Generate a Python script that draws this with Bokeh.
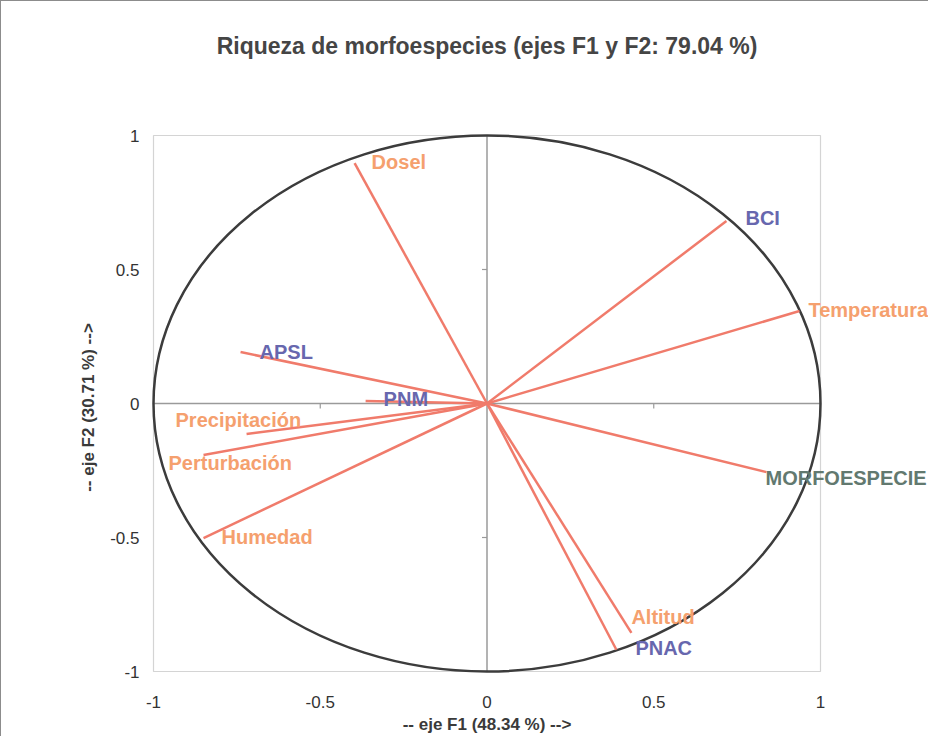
import math
from bokeh.plotting import figure
from bokeh.models import Range1d, ColumnDataSource, LabelSet, Label
from bokeh.core.properties import value
from bokeh.embed import file_html
from bokeh.resources import INLINE

# ---- data ----
variables = ["Dosel", "BCI", "Temperatura", "APSL", "PNM", "Precipitación",
             "Perturbación", "Humedad", "MORFOESPECIE", "Altitud", "PNAC"]
f1 = [-0.397, 0.718, 0.937, -0.739, -0.364, -0.721, -0.850, -0.850, 0.838, 0.433, 0.388]
f2 = [0.897, 0.681, 0.345, 0.192, 0.009, -0.114, -0.192, -0.502, -0.256, -0.856, -0.919]
groups = ["var", "site", "var", "site", "site", "var", "var", "var", "resp", "var", "site"]
tick_values = [-1, -0.5, 0, 0.5, 1]
tick_labels = ["-1", "-0.5", "0", "0.5", "1"]
inner_ticks = [-0.5, 0.5]
title_text = "Riqueza de morfoespecies (ejes F1 y F2: 79.04 %)"
x_title = "-- eje F1 (48.34 %) -->"
y_title = "-- eje F2 (30.71 %) -->"

# ---- styles / layout ----
FONT_NAME = "Liberation Sans"
group_colors = {"var": "#F5A06E", "site": "#6767AE", "resp": "#62796F"}
label_dx = [17, 19, 9, 19, 18, -71, -35, 18, -1, 0, 19]
label_dy = [-1, -3, -1, 0, -2, -14, 8, -1, 6, -16, -2]   # screen px, + = down

W, H = 928, 736
PAD_L, PAD_R, PAD_T, PAD_B = 152, 109, 134, 66      # px around the -1..1 box
lo, hi = min(tick_values), max(tick_values)
ux = (W - PAD_L - PAD_R) / (hi - lo)                 # px per unit
uy = (H - PAD_T - PAD_B) / (hi - lo)

p = figure(width=W, height=H, output_backend="svg", toolbar_location=None,
           x_range=Range1d(lo - PAD_L / ux, hi + PAD_R / ux),
           y_range=Range1d(lo - PAD_B / uy, hi + PAD_T / uy),
           x_axis_type=None, y_axis_type=None,
           min_border=0, min_border_left=0, min_border_right=0,
           min_border_top=0, min_border_bottom=0)
p.styles = {"border-top": "1px solid #8c8c8c", "border-left": "1px solid #8c8c8c"}
p.grid.visible = False
p.outline_line_color = None
p.background_fill_color = "white"
p.border_fill_color = "white"

# plot-area box from -1 to 1
p.quad(left=[lo], right=[hi], bottom=[lo], top=[hi], fill_color=None,
       line_color="#d4d4d4", line_width=1.2)

# zero lines with small tick marks
p.segment(x0=[lo, 0], y0=[0, lo], x1=[hi, 0], y1=[0, hi],
          line_color="#9a9a9a", line_width=1.5)
p.ray(x=inner_ticks, y=[0] * len(inner_ticks), length=5, length_units="screen",
      angle=-math.pi / 2, line_color="#9a9a9a", line_width=1.2)
p.ray(x=[0] * len(inner_ticks), y=inner_ticks, length=5, length_units="screen",
      angle=math.pi, line_color="#9a9a9a", line_width=1.2)

# correlation circle
p.ellipse(x=0, y=0, width=hi - lo, height=hi - lo, fill_color=None,
          line_color="#3c3c3c", line_width=2.5)

src = ColumnDataSource(dict(
    x=f1, y=f2, name=variables,
    color=[group_colors[g] for g in groups],
    dx=label_dx, dy=[-d for d in label_dy]))

p.segment(x0=0, y0=0, x1="x", y1="y", source=src,
          line_color="#F07B6B", line_width=2.5)

p.add_layout(LabelSet(x="x", y="y", text="name", source=src,
                      text_color="color", x_offset="dx", y_offset="dy",
                      text_align="left", text_baseline="middle",
                      text_font=value(FONT_NAME), text_font_size="20px",
                      text_font_style="bold"))

# tick labels
xt = ColumnDataSource(dict(x=tick_values, y=[lo] * len(tick_values), t=tick_labels))
yt = ColumnDataSource(dict(x=[lo] * len(tick_values), y=tick_values, t=tick_labels))
p.add_layout(LabelSet(x="x", y="y", text="t", source=xt, y_offset=-30,
                      text_align="center", text_baseline="middle",
                      text_font=value(FONT_NAME), text_font_size="17px",
                      text_color="#333333"))
p.add_layout(LabelSet(x="x", y="y", text="t", source=yt, x_offset=-14,
                      text_align="right", text_baseline="middle",
                      text_font=value(FONT_NAME), text_font_size="17px",
                      text_color="#333333"))

# axis titles and chart title
p.add_layout(Label(x=0, y=lo, y_offset=-53, text=x_title,
                   text_align="center", text_baseline="middle",
                   text_font=FONT_NAME, text_font_size="17px",
                   text_font_style="bold", text_color="#3a3a3a"))
p.add_layout(Label(x=lo, y=0, x_offset=-65, y_offset=-4, text=y_title,
                   angle=math.pi / 2, text_align="center", text_baseline="middle",
                   text_font=FONT_NAME, text_font_size="17px",
                   text_font_style="bold", text_color="#3a3a3a"))
p.add_layout(Label(x=0, y=hi, y_offset=90, text=title_text,
                   text_align="center", text_baseline="middle",
                   text_font=FONT_NAME, text_font_size="23px",
                   text_font_style="bold", text_color="#454545"))

open("out.html", "w").write(file_html(p, INLINE))
